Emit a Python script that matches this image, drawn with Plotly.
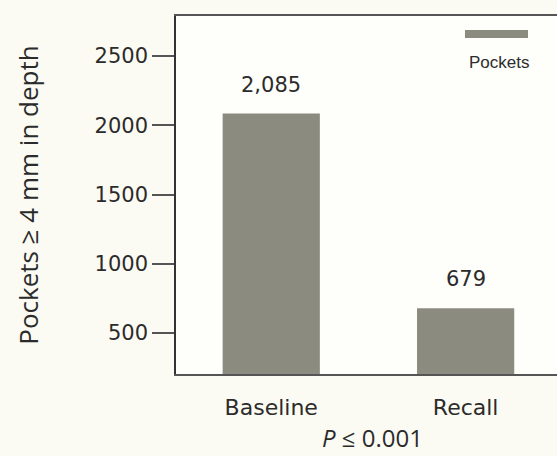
import plotly.graph_objects as go

categories = ["Baseline", "Recall"]
values = [2085, 679]
value_labels = ["2,085", "679"]
y_ticks = [500, 1000, 1500, 2000, 2500]
series_name = "Pockets"

bar_color = "#8b8b80"
tick_font = "DejaVu Sans, sans-serif"
human_font = "Open Sans, Noto Sans, sans-serif"
legend_font = "Liberation Sans, Arial, sans-serif"
text_color = "#2b2b2b"

L, T, B, W, H = 176, 16, 82, 557, 456
PW, PH = W - L, H - T - B

fig = go.Figure()
fig.add_trace(go.Bar(
    x=categories, y=values, width=0.5,
    marker=dict(color=bar_color, line=dict(width=0)),
    name=series_name, showlegend=False, hoverinfo="skip",
))

for c, v, t in zip(categories, values, value_labels):
    fig.add_annotation(x=c, y=v, text=t, showarrow=False, yanchor="bottom",
                       yshift=15, font=dict(size=21, color=text_color, family=tick_font))

# legend-like swatch with label below
fig.add_shape(type="rect", xref="paper", yref="paper",
              x0=(465 - L) / PW, x1=(528 - L) / PW,
              y0=(H - B - 38) / PH, y1=(H - B - 30) / PH,
              fillcolor=bar_color, line=dict(width=0))
fig.add_annotation(xref="paper", yref="paper", x=(499 - L) / PW, y=(H - B - 62) / PH,
                   text=series_name, showarrow=False, yanchor="middle", xanchor="center",
                   font=dict(size=17, color=text_color, family=legend_font))

fig.add_annotation(xref="paper", yref="paper", x=(372 - L) / PW, y=-(H - 1 - (H - B)) / PH,
                   text="<i>P</i> ≤ 0.001", showarrow=False, yanchor="bottom", xanchor="center",
                   borderpad=0,
                   font=dict(size=24, color=text_color, family=human_font))

fig.update_layout(
    width=W, height=H,
    margin=dict(l=L, r=0, t=T, b=B),
    paper_bgcolor="#fbfbf3", plot_bgcolor="#fefefa",
    font=dict(family=tick_font, color=text_color),
    xaxis=dict(range=[-0.49, 1.47], showgrid=False, showline=True, mirror=True,
               linecolor="#555", linewidth=1.5, ticks="", tickfont=dict(size=22),
               ticklabelstandoff=13),
    yaxis=dict(range=[204, 2789], tickvals=y_ticks, showgrid=False, zeroline=False,
               showline=True, linecolor="#333", linewidth=1.5,
               ticks="outside", ticklen=22, tickwidth=1.5, tickcolor="#555",
               tickfont=dict(size=21),
               title=dict(text="Pockets ≥ 4 mm in depth",
                          font=dict(size=26, family=human_font), standoff=48)),
)

fig.write_html("out.html", config={"displayModeBar": False}, post_script=(
    "document.body.style.margin='0';"
    "document.body.style.overflow='hidden';"
    "document.body.style.background='#fbfbf3';"
))
